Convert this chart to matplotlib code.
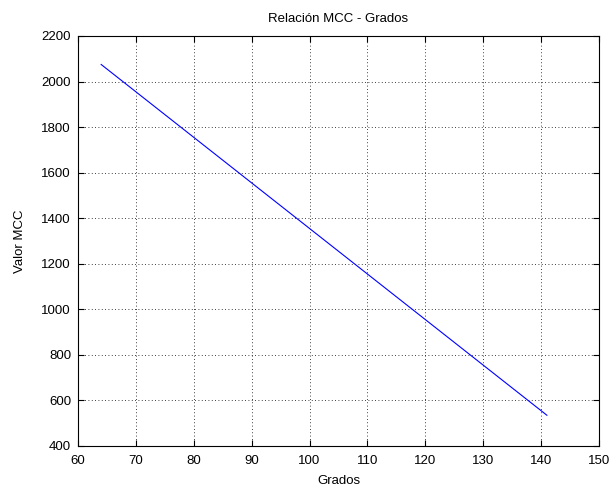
import matplotlib
matplotlib.use("Agg")
import matplotlib.pyplot as plt

# Degrees vs. MCC value
grados = [64, 141]
valor_mcc = [2075, 535]

x_ticks = [60, 70, 80, 90, 100, 110, 120, 130, 140, 150]
y_ticks = [400, 600, 800, 1000, 1200, 1400, 1600, 1800, 2000, 2200]

plt.rcParams['font.family'] = ['Liberation Sans', 'DejaVu Sans']

fig = plt.figure(figsize=(6.11, 4.88), dpi=100)
ax = fig.add_axes([78 / 611, 1 - 446 / 488, (599 - 78) / 611, (446 - 36) / 488])

ax.plot(grados, valor_mcc, color='#0000ff', linewidth=0.8)

ax.set_xlim(60, 150)
ax.set_ylim(400, 2200)
ax.set_xticks(x_ticks)
ax.set_yticks(y_ticks)
ax.tick_params(direction='in', length=4, labelsize=9.5, top=True, right=True, width=0.8)
ax.tick_params(axis='x', pad=6.5)
ax.tick_params(axis='y', pad=5)
ax.grid(True, linestyle=(0, (1, 3)), color='black', linewidth=0.6)
for s in ax.spines.values():
    s.set_linewidth(0.8)

ax.set_title('Relación MCC - Grados', fontsize=9.5, pad=10)
ax.set_xlabel('Grados', fontsize=9.5, labelpad=6)
ax.set_ylabel('Valor MCC', fontsize=9.5, labelpad=11)

fig.savefig('out.png', dpi=100, facecolor='white')
